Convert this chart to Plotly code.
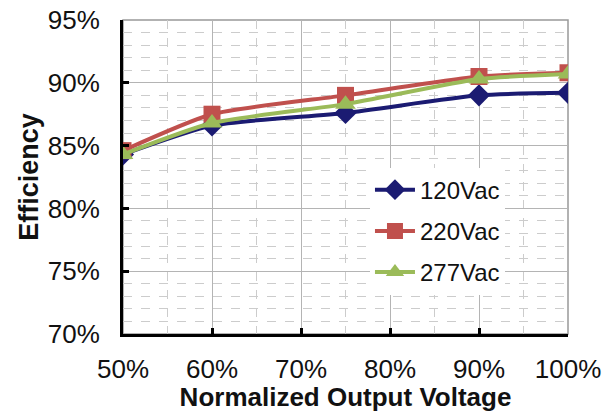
import plotly.graph_objects as go

x_vals = [0.50, 0.60, 0.75, 0.90, 1.00]
eff_120 = [0.843, 0.866, 0.876, 0.890, 0.892]
eff_220 = [0.846, 0.875, 0.890, 0.905, 0.908]
eff_277 = [0.843, 0.868, 0.883, 0.903, 0.907]
series_names = ["120Vac", "220Vac", "277Vac"]
colors = ["#1b1b72", "#c0504d", "#9bbb59"]
symbols = ["diamond", "square", "triangle-up"]
marker_sizes = [17, 17, 18]

fig = go.Figure()
for name, ys, c, s, ms in zip(series_names, [eff_120, eff_220, eff_277], colors, symbols, marker_sizes):
    fig.add_trace(go.Scatter(
        x=x_vals, y=ys, name=name, mode="lines+markers",
        line=dict(color=c, width=4, shape="spline", smoothing=0.6),
        marker=dict(symbol=s, size=ms, color=c),
        legendgroup=name,
    ))

font = "Liberation Sans, Arial, sans-serif"
fig.update_layout(
    width=602, height=412,
    margin=dict(l=123, r=34, t=20, b=78),
    paper_bgcolor="white", plot_bgcolor="white",
    font=dict(family=font, size=26, color="#111"),
    showlegend=True,
    legend=dict(x=0.555, y=0.53, xanchor="left", yanchor="top",
                bgcolor="white", font=dict(size=24, family=font),
                tracegroupgap=7, itemwidth=40),
    xaxis=dict(
        range=[0.5, 1.0], dtick=0.1, tick0=0.5, tickformat=".0%",
        showgrid=True, gridcolor="#b4b4b4", gridwidth=1,
        minor=dict(dtick=0.05, showgrid=True, gridcolor="#cccccc", griddash="dash", gridwidth=1),
        showline=True, linecolor="black", linewidth=3,
        ticks="inside", ticklen=6, tickwidth=3, tickcolor="black",
        ticklabelstandoff=10, automargin=False, ticklabeloverflow="allow",
        title=dict(text="<b>Normalized Output Voltage</b>", font=dict(size=26, family=font), standoff=3),
        zeroline=False,
    ),
    yaxis=dict(
        range=[0.70, 0.95], dtick=0.05, tick0=0.70, tickformat=".0%",
        showgrid=True, gridcolor="#b4b4b4", gridwidth=1,
        minor=dict(dtick=0.01, showgrid=True, gridcolor="#cccccc", griddash="dash", gridwidth=1),
        showline=True, linecolor="black", linewidth=3,
        ticks="inside", ticklen=6, tickwidth=3, tickcolor="black",
        ticklabelstandoff=15, automargin=False, ticklabeloverflow="allow",
        title=dict(text="<b>Efficiency</b>", font=dict(size=27, family=font), standoff=2),
        zeroline=False,
    ),
)
fig.add_shape(type="rect", xref="paper", yref="paper", x0=0, y0=0, x1=1, y1=1,
              line=dict(color="#999999", width=1.5), layer="below")

fig.write_html("out.html", config={"displayModeBar": False},
               post_script="document.body.style.margin='0';document.body.style.overflow='hidden';")
